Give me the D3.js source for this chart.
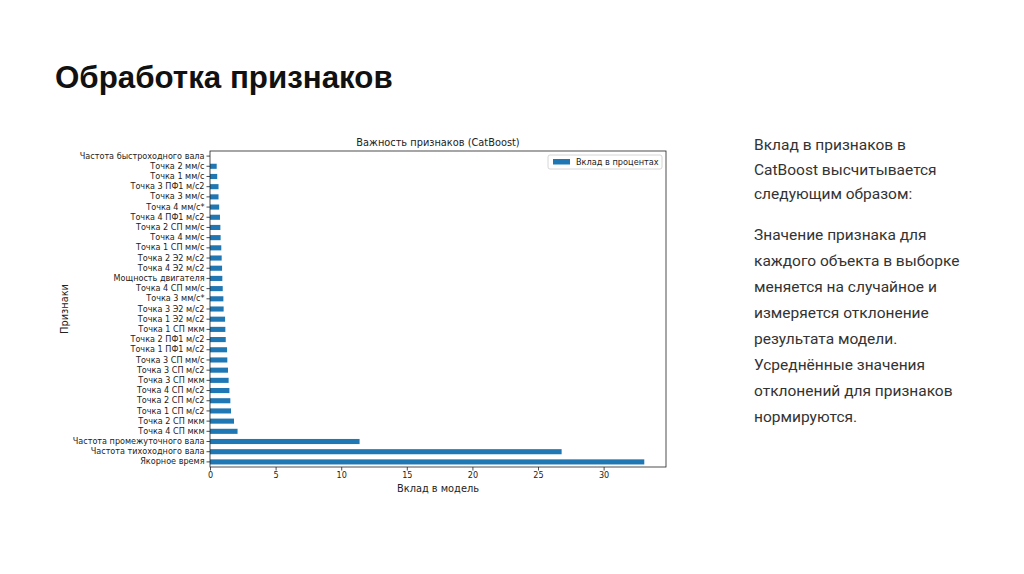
<!DOCTYPE html>
<html><head><meta charset="utf-8">
<script src="https://cdn.jsdelivr.net/npm/d3@7"></script>
<style>body{margin:0;background:#fff}svg{display:block}</style>
</head><body>
<svg id="c" width="1024" height="574"></svg>
<script>
const categories = [
 "Частота быстроходного вала","Точка 2 мм/с","Точка 1 мм/с","Точка 3 ПФ1 м/с2","Точка 3 мм/с",
 "Точка 4 мм/с*","Точка 4 ПФ1 м/с2","Точка 2 СП мм/с","Точка 4 мм/с","Точка 1 СП мм/с",
 "Точка 2 Э2 м/с2","Точка 4 Э2 м/с2","Мощность двигателя","Точка 4 СП мм/с","Точка 3 мм/с*",
 "Точка 3 Э2 м/с2","Точка 1 Э2 м/с2","Точка 1 СП мкм","Точка 2 ПФ1 м/с2","Точка 1 ПФ1 м/с2",
 "Точка 3 СП мм/с","Точка 3 СП м/с2","Точка 3 СП мкм","Точка 4 СП м/с2","Точка 2 СП м/с2",
 "Точка 1 СП м/с2","Точка 2 СП мкм","Точка 4 СП мкм","Частота промежуточного вала","Частота тихоходного вала",
 "Якорное время"];
const values = [
 0.0,0.51,0.55,0.65,0.65,
 0.70,0.76,0.79,0.81,0.86,
 0.89,0.92,0.94,0.97,1.02,
 1.04,1.15,1.17,1.20,1.30,
 1.32,1.37,1.42,1.48,1.55,
 1.60,1.83,2.10,11.4,26.8,
 33.1];
const xTicks = [0,5,10,15,20,25,30];
const seriesName = "Вклад в процентах";
const chartTitle = "Важность признаков (CatBoost)";
const xLabel = "Вклад в модель";
const yLabel = "Признаки";
const heading = "Обработка признаков";
const para1 = ["Вклад в признаков в","CatBoost высчитывается","следующим образом:"];
const para2 = ["Значение признака для","каждого объекта в выборке","меняется на случайное и","измеряется отклонение","результата модели.","Усреднённые значения","отклонений для признаков","нормируются."];

const svg = d3.select("#c");
const mf = "'DejaVu Sans', sans-serif";
svg.append("text").attr("x",55).attr("y",88).attr("font-family","'Liberation Sans', Arial, sans-serif")
  .attr("font-weight","bold").attr("font-size",31.3).attr("fill","#111").text(heading);

const L=210,R=666,T=151,B=467;
const maxV = d3.max(values);
const x = d3.scaleLinear().domain([0, maxV*1.05]).range([L,R]);
const y = d3.scaleBand().domain(categories).range([T,B]).paddingInner(0.5).paddingOuter(0.25);

const g = svg.append("g");
g.selectAll("rect.bar").data(categories).join("rect")
  .attr("x", x(0)).attr("y", d=>y(d))
  .attr("width", (d,i)=>x(values[i])-x(0)).attr("height", y.bandwidth())
  .attr("fill","#1f77b4");

const xa = g.append("g").attr("transform",`translate(0,${B})`)
  .call(d3.axisBottom(x).tickValues(xTicks).tickSize(3.5).tickPadding(2).tickFormat(d3.format("d")));
const ya = g.append("g").attr("transform",`translate(${L},0)`)
  .call(d3.axisLeft(y).tickSize(3.5).tickPadding(2));
[xa,ya].forEach(a=>{a.select(".domain").remove();a.selectAll("text").attr("font-family",mf).attr("font-size",8.1).attr("fill","#222");a.selectAll("line").attr("stroke","#222").attr("stroke-width",0.8);});
g.append("rect").attr("x",L).attr("y",T).attr("width",R-L).attr("height",B-T)
  .attr("fill","none").attr("stroke","#222").attr("stroke-width",0.8);

g.append("text").attr("x",(L+R)/2).attr("y",146).attr("text-anchor","middle")
  .attr("font-family",mf).attr("font-size",9.8).attr("fill","#222").text(chartTitle);
g.append("text").attr("x",(L+R)/2).attr("y",492).attr("text-anchor","middle")
  .attr("font-family",mf).attr("font-size",9.8).attr("fill","#222").text(xLabel);
g.append("text").attr("transform",`translate(68,${(T+B)/2}) rotate(-90)`).attr("text-anchor","middle")
  .attr("font-family",mf).attr("font-size",9.8).attr("fill","#222").text(yLabel);

// legend
const lg = g.append("g");
lg.append("rect").attr("x",548).attr("y",155).attr("width",114).attr("height",14).attr("rx",2)
  .attr("fill","#fff").attr("stroke","#ccc").attr("stroke-width",0.8);
lg.append("rect").attr("x",553).attr("y",159).attr("width",17).attr("height",5.5).attr("fill","#1f77b4");
lg.append("text").attr("x",576).attr("y",165).attr("font-family",mf).attr("font-size",8.2).attr("fill","#222").text(seriesName);

const tf = "Roboto, sans-serif";
const tg = svg.append("g").attr("font-family",tf).attr("font-size",15.5).attr("fill","#333");
para1.forEach((s,i)=>tg.append("text").attr("x",754).attr("y",150+i*24.5).text(s));
para2.forEach((s,i)=>tg.append("text").attr("x",754).attr("y",240+i*26).text(s));
</script>
</body></html>
